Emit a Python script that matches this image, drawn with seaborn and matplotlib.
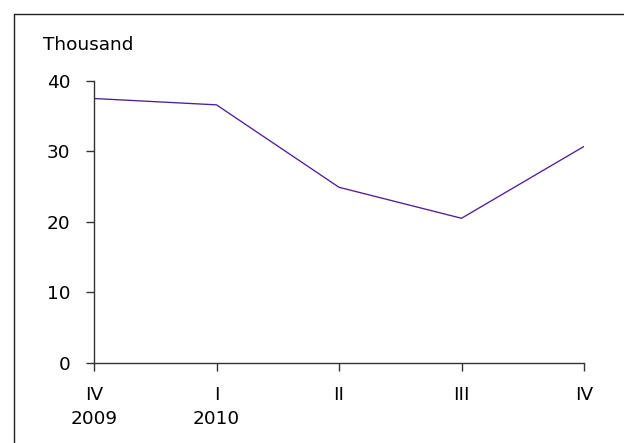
import matplotlib
matplotlib.use("Agg")
import matplotlib.pyplot as plt
from matplotlib.lines import Line2D
import seaborn as sns
import pandas as pd

# Quarterly values, thousands
quarters = ["IV\n2009", "I\n2010", "II", "III", "IV"]
values = [37.5, 36.6, 24.9, 20.5, 30.7]
y_ticks = [0, 10, 20, 30, 40]

sns.set_theme(style="white")
plt.rcParams["font.family"] = ["DejaVu Sans"]

df = pd.DataFrame({"pos": range(len(quarters)), "value": values})

fig = plt.figure(figsize=(6.24, 4.43), dpi=100)
ax = fig.add_axes([94 / 624, 1 - 362.7 / 443, (584 - 94) / 624, (362.7 - 80.9) / 443])

sns.lineplot(data=df, x="pos", y="value", ax=ax, color="#4f1d9c", linewidth=0.95)

ax.set_xlim(0, len(quarters) - 1)
ax.set_ylim(0, 40)
ax.set_xticks(range(len(quarters)))
ax.set_xticklabels(quarters, linespacing=1.4)
ax.set_yticks(y_ticks)
ax.set_yticklabels([str(t) for t in y_ticks])
ax.set_xlabel("")
ax.set_ylabel("")

for side in ("top", "right"):
    ax.spines[side].set_visible(False)
for side in ("left", "bottom"):
    ax.spines[side].set_color("#333333")
    ax.spines[side].set_linewidth(1.0)

ax.tick_params(axis="both", which="major", direction="out", length=6, width=1.0,
               color="#333333", labelsize=13.3, labelcolor="#000000",
               left=True, bottom=True)
ax.tick_params(axis="y", pad=11)
ax.tick_params(axis="x", pad=11)

fig.text(43 / 624, 1 - 45 / 443, "Thousand", fontsize=13.3, color="#000000",
         ha="left", va="center")

# Frame around the chart area
x0, y0 = 13.5 / 624, 1 - 13.5 / 443
fig.add_artist(Line2D([x0, x0], [y0, -0.1], transform=fig.transFigure,
                      color="#222222", linewidth=1.0))
fig.add_artist(Line2D([x0, 1.1], [y0, y0], transform=fig.transFigure,
                      color="#222222", linewidth=1.0))

fig.savefig("out.png", dpi=100)
